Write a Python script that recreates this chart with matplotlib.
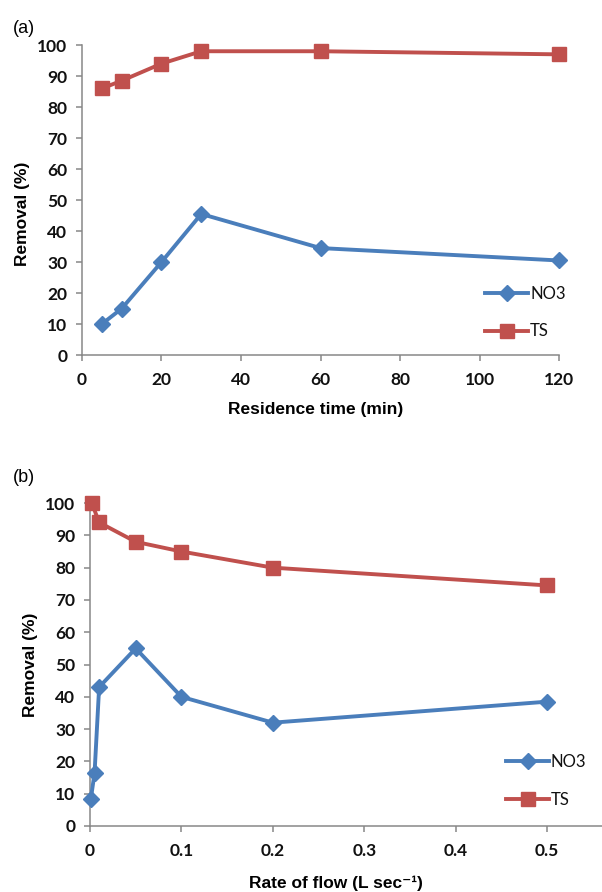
import matplotlib
matplotlib.use('Agg')
import matplotlib.pyplot as plt
from matplotlib.ticker import FuncFormatter

# panel (a): residence time (min)
time_min = [5, 10, 20, 30, 60, 120]
no3_a = [10, 15, 30, 45.5, 34.5, 30.5]
ts_a = [86, 88.5, 94, 98, 98, 97]

# panel (b): rate of flow (L/s)
flow_no3 = [0.001, 0.005, 0.01, 0.05, 0.1, 0.2, 0.5]
no3_b = [8.5, 16.5, 43, 55, 40, 32, 38.5]
flow_ts = [0.002, 0.01, 0.05, 0.1, 0.2, 0.5]
ts_b = [100, 94, 88, 85, 80, 74.5]

yticks = list(range(0, 101, 10))
xticks_a = [0, 20, 40, 60, 80, 100, 120]
xticks_b = [0, 0.1, 0.2, 0.3, 0.4, 0.5]

BLUE = '#4a7ebb'
RED = '#c0504d'
GREY = '#878787'
TICKFONT = 'Lato'
LABELFONT = 'Liberation Sans'

fig = plt.figure(figsize=(6.02, 8.92), dpi=100)
ax_a = fig.add_axes([0.1362, 0.602, 0.7924, 0.3475])
ax_b = fig.add_axes([0.1495, 0.074, 0.8505, 0.362])


def style(ax, xticks, xlim):
    for s in ('top', 'right'):
        ax.spines[s].set_visible(False)
    for s in ('left', 'bottom'):
        ax.spines[s].set_color(GREY)
        ax.spines[s].set_linewidth(1.1)
    ax.set_ylim(0, 100)
    ax.set_xlim(*xlim)
    ax.set_yticks(yticks)
    ax.set_xticks(xticks)
    ax.xaxis.set_major_formatter(FuncFormatter(lambda v, p: f"{v:g}"))
    ax.tick_params(axis='both', colors=GREY, length=4.5, width=1.1, direction='out',
                   labelcolor='#111111', labelsize=12.5)
    ax.tick_params(axis='y', pad=6)
    ax.tick_params(axis='x', pad=8)
    for lab in ax.get_xticklabels() + ax.get_yticklabels():
        lab.set_fontfamily(TICKFONT)
        lab.set_fontweight('bold')


def draw(ax, x1, y1, x2, y2):
    ax.plot(x1, y1, color=BLUE, lw=2.8, marker='D', ms=8, mec=BLUE, label='NO3', clip_on=False, zorder=3)
    ax.plot(x2, y2, color=RED, lw=2.8, marker='s', ms=10, mec=RED, label='TS', clip_on=False, zorder=3)


draw(ax_a, time_min, no3_a, time_min, ts_a)
style(ax_a, xticks_a, (0, 120))
draw(ax_b, flow_no3, no3_b, flow_ts, ts_b)
style(ax_b, xticks_b, (0, 0.56))

for ax, anchor in ((ax_a, (0.845, 0.137)), (ax_b, (0.8125, 0.139))):
    leg = ax.legend(loc='center left', bbox_to_anchor=anchor, frameon=False,
                    borderpad=0, borderaxespad=0, handlelength=2.6, handletextpad=0.1,
                    labelspacing=1.3, prop={'family': TICKFONT, 'size': 12})
    for t in leg.get_texts():
        t.set_color('#111111')

lab_kw = dict(fontfamily=LABELFONT, fontweight='bold', fontsize=12.5)
ax_a.set_ylabel('Removal (%)', **lab_kw)
ax_a.yaxis.set_label_coords(-0.11, 0.455)
ax_a.set_xlabel('Residence time (min)', **lab_kw)
ax_a.xaxis.set_label_coords(0.49, -0.15)

ax_b.set_ylabel('Removal (%)', **lab_kw)
ax_b.yaxis.set_label_coords(-0.102, 0.498)
ax_b.set_xlabel('Rate of flow (L sec\u207b\u00b9)', fontfamily=[LABELFONT, 'DejaVu Sans'],
                fontweight='bold', fontsize=12.5)
ax_b.xaxis.set_label_coords(0.48, -0.155)

fig.text(0.022, 0.978, '(a)', fontfamily=LABELFONT, fontsize=13, va='top', ha='left')
fig.text(0.022, 0.474, '(b)', fontfamily=LABELFONT, fontsize=13, va='top', ha='left')

fig.savefig('out.png', dpi=100)
